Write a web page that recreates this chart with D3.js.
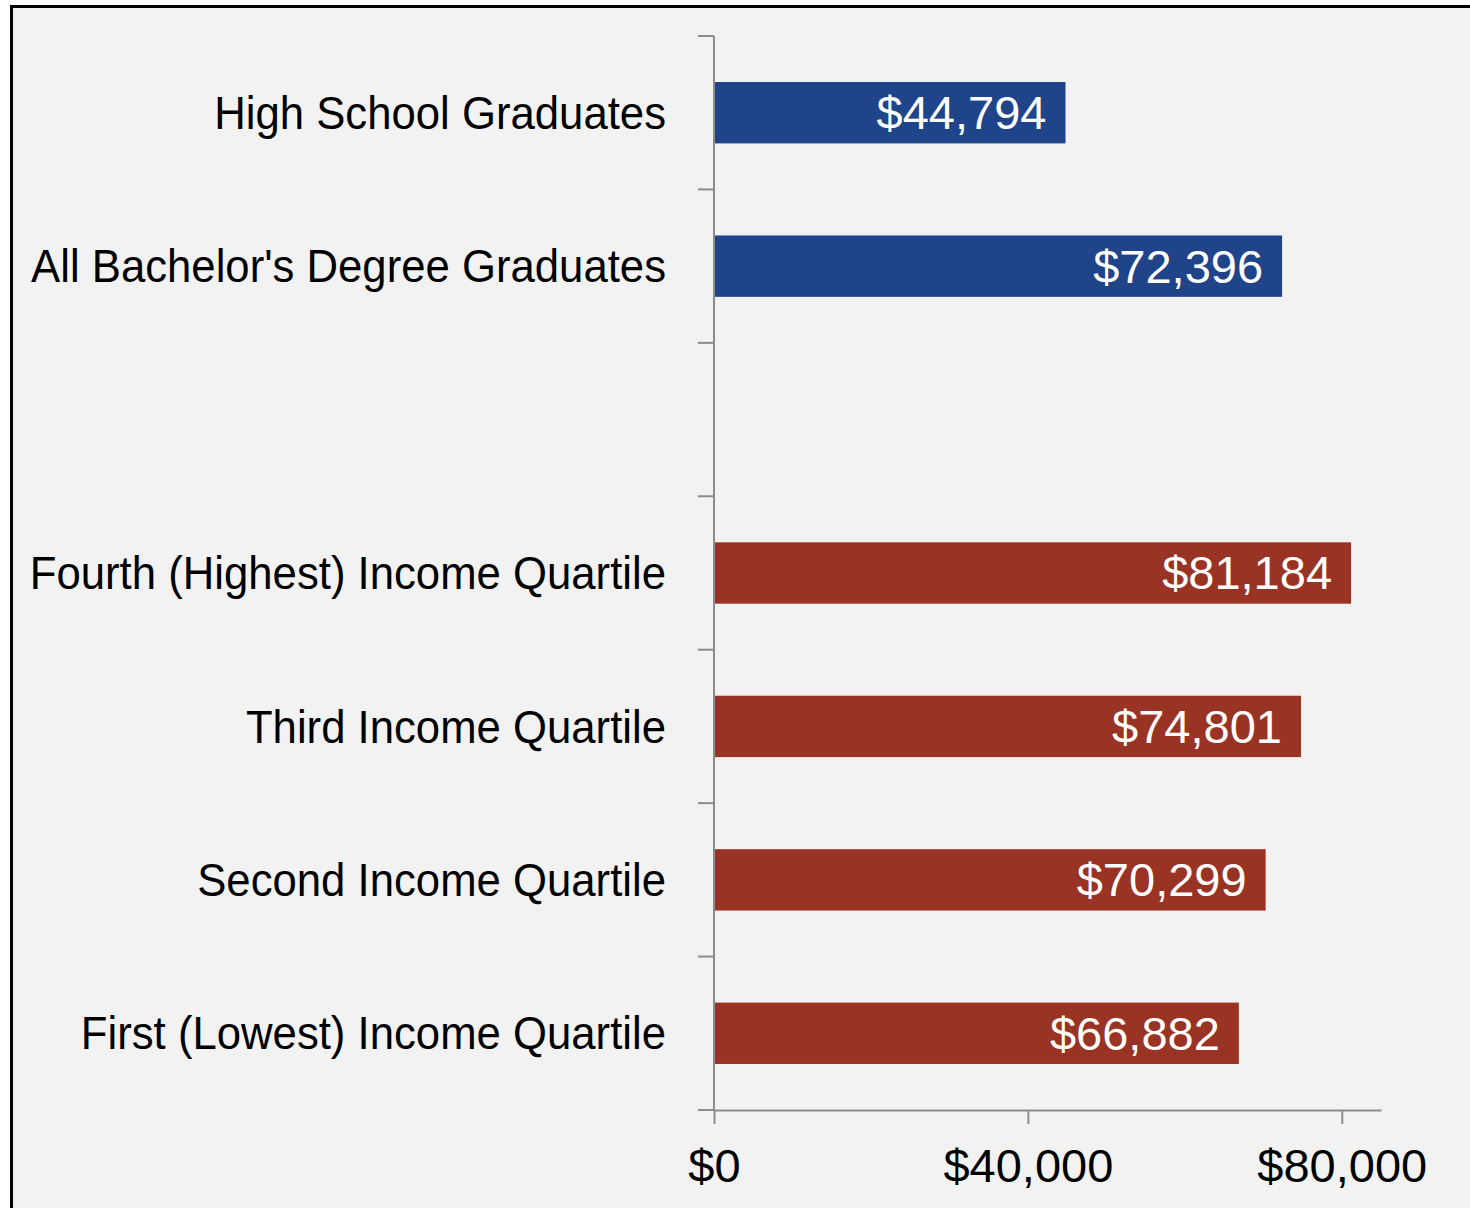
<!DOCTYPE html>
<html>
<head>
<meta charset="utf-8">
<script src="https://cdn.jsdelivr.net/npm/d3@7"></script>
<style>
  html, body { margin: 0; padding: 0; background: #fff; }
  svg { display: block; }
</style>
</head>
<body>
<div id="chart"></div>
<script>
// categories top to bottom; "gap" is the empty slot between the two groups
var categories = ["High School Graduates", "All Bachelor's Degree Graduates", "gap",
  "Fourth (Highest) Income Quartile", "Third Income Quartile",
  "Second Income Quartile", "First (Lowest) Income Quartile"];
var values = [44794, 72396, null, 81184, 74801, 70299, 66882];
var groups = ["edu", "edu", null, "inc", "inc", "inc", "inc"];
var xTicks = [0, 40000, 80000];

var width = 1470, height = 1208;
var colors = { edu: '#1f4489', inc: '#993324' };
var axisColor = '#8c8c8c';
var labelSqueeze = 0.95; // no narrow font installed, so squeeze the labels

var svg = d3.select('#chart')
  .append('svg')
  .attr('width', width)
  .attr('height', height);

// panel with heavy border, running off the right and bottom edges
svg.append('rect')
  .attr('x', 11.5).attr('y', 6.5)
  .attr('width', width).attr('height', height)
  .attr('fill', '#f2f2f2')
  .attr('stroke', '#000')
  .attr('stroke-width', 3);

var x = d3.scaleLinear().domain([0, 85000]).range([714, 1381]);
var y = d3.scaleBand().domain(categories).range([36, 1110]).padding(0);
var barH = y.bandwidth() * 0.4;

var rows = categories.map(function(c, i){
  return { name: c, value: values[i], group: groups[i] };
});
var filled = rows.filter(function(d){ return d.value !== null; });

// bars
svg.selectAll('.bar')
  .data(filled)
  .enter().append('rect')
  .attr('class', 'bar')
  .attr('x', x(0))
  .attr('y', function(d){ return y(d.name) + (y.bandwidth() - barH) / 2; })
  .attr('width', function(d){ return x(d.value) - x(0); })
  .attr('height', barH)
  .attr('fill', function(d){ return colors[d.group]; });

// value labels inside bars
svg.selectAll('.val')
  .data(filled)
  .enter().append('text')
  .attr('class', 'val')
  .attr('x', function(d){ return x(d.value) - 19; })
  .attr('y', function(d){ return y(d.name) + y.bandwidth() / 2; })
  .attr('dy', '0.35em')
  .attr('text-anchor', 'end')
  .attr('fill', '#fff')
  .style('font-family', '"Liberation Sans", Arial, sans-serif')
  .style('font-size', '47px')
  .text(function(d){ return '$' + d3.format(',')(d.value); });

// category labels
svg.selectAll('.cat')
  .data(filled)
  .enter().append('text')
  .attr('class', 'cat')
  .attr('transform', function(d){
    return 'translate(666,' + (y(d.name) + y.bandwidth() / 2) + ') scale(' + labelSqueeze + ',1)';
  })
  .attr('dy', '0.35em')
  .attr('text-anchor', 'end')
  .attr('fill', '#000')
  .style('font-family', '"Liberation Sans", Arial, sans-serif')
  .style('font-size', '46px')
  .text(function(d){ return d.name; });

// y axis line with ticks between categories
var yTickPos = categories.map(function(c){ return y(c); }).concat([y.range()[1]]);
svg.append('line')
  .attr('x1', x(0)).attr('x2', x(0))
  .attr('y1', y.range()[0]).attr('y2', y.range()[1])
  .attr('stroke', axisColor).attr('stroke-width', 2);
svg.selectAll('.ytick')
  .data(yTickPos)
  .enter().append('line')
  .attr('class', 'ytick')
  .attr('x1', x(0) - 16).attr('x2', x(0))
  .attr('y1', function(d){ return d; }).attr('y2', function(d){ return d; })
  .attr('stroke', axisColor).attr('stroke-width', 2);

// x axis
var xAxis = svg.append('g')
  .attr('transform', 'translate(0,' + y.range()[1] + ')')
  .call(d3.axisBottom(x).tickValues(xTicks).tickSize(14).tickSizeOuter(0)
    .tickFormat(function(d){ return '$' + d3.format(',')(d); }));
xAxis.select('.domain').attr('stroke', axisColor).attr('stroke-width', 2);
xAxis.selectAll('.tick line').attr('stroke', axisColor).attr('stroke-width', 2);
xAxis.selectAll('.tick text')
  .attr('y', 72).attr('dy', 0)
  .attr('fill', '#000')
  .style('font-family', '"Liberation Sans", Arial, sans-serif')
  .style('font-size', '47px');
</script>
</body>
</html>
